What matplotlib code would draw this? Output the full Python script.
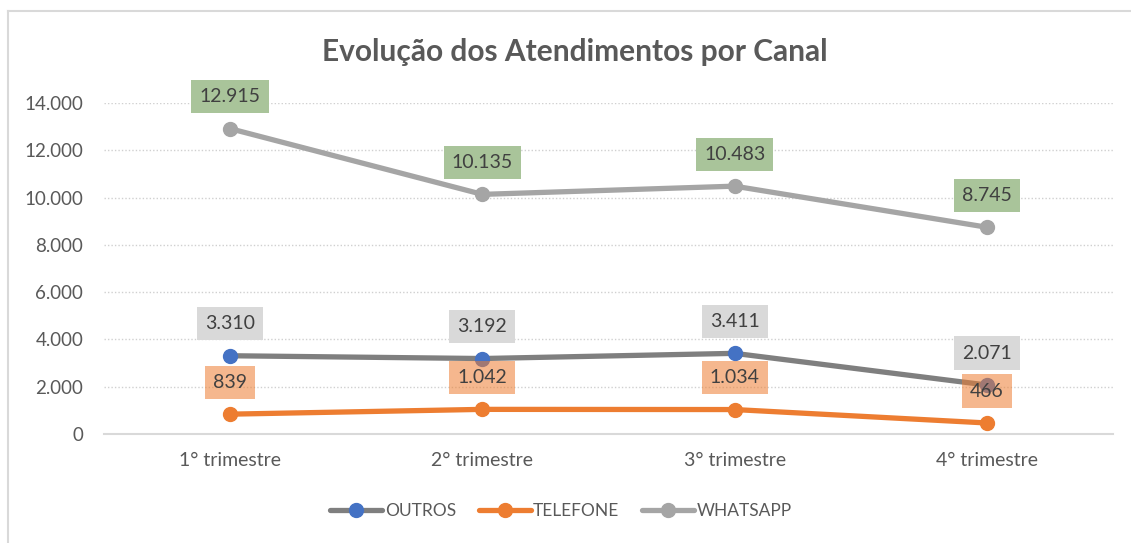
from matplotlib import pyplot as plt
from matplotlib.lines import Line2D
from matplotlib.ticker import FuncFormatter

categorias = ["1° trimestre", "2° trimestre", "3° trimestre", "4° trimestre"]
outros = [3310, 3192, 3411, 2071]
telefone = [839, 1042, 1034, 466]
whatsapp = [12915, 10135, 10483, 8745]

plt.rcParams["font.family"] = ["Lato", "DejaVu Sans"]
TEXT = "#595959"


def fmt_br(v):
    return f"{int(v):,}".replace(",", ".")


fig = plt.figure(figsize=(11.31, 5.43), dpi=100)
ax = fig.add_axes([104 / 1131, 1 - 434 / 543, (1113 - 104) / 1131, (434 - 103) / 543])

# moldura do gráfico (só topo e esquerda aparecem no recorte)
fig.add_artist(Line2D([8 / 1131, 1], [1 - 11 / 543] * 2, color="#D9D9D9", lw=1.5))
fig.add_artist(Line2D([8 / 1131] * 2, [0, 1 - 11 / 543], color="#D9D9D9", lw=1.5))

x = list(range(len(categorias)))
series = [
    ("OUTROS", outros, "#7F7F7F", "#4472C4", "#D9D9D9", 1.0),
    ("TELEFONE", telefone, "#ED7D31", "#ED7D31", "#ED7D31", 0.55),
    ("WHATSAPP", whatsapp, "#A5A5A5", "#A5A5A5", "#A9C49A", 1.0),
]

handles = []
for nome, vals, cor, cor_marc, cor_box, alpha in series:
    h, = ax.plot(x, vals, color=cor, lw=3.8, marker="o", markersize=10,
                 markerfacecolor=cor_marc, markeredgecolor=cor_marc,
                 solid_capstyle="round", label=nome, zorder=3)
    handles.append(h)

for nome, vals, cor, cor_marc, cor_box, alpha in series:
    for xi, v in zip(x, vals):
        ax.annotate(fmt_br(v), (xi, v), xytext=(0, 23), textcoords="offset points",
                    ha="center", va="center", fontsize=14, color="#404040",
                    bbox=dict(boxstyle="square,pad=0.42", fc=cor_box, ec="none", alpha=alpha),
                    zorder=5, annotation_clip=False)

ax.set_xlim(-0.5, 3.5)
ax.set_ylim(0, 14000)
ax.set_yticks(range(0, 14001, 2000))
ax.yaxis.set_major_formatter(FuncFormatter(lambda v, p: fmt_br(v)))
ax.set_xticks(x)
ax.set_xticklabels(categorias)
ax.tick_params(length=0, labelcolor=TEXT)
ax.tick_params(axis="y", pad=15, labelsize=13.5)
ax.tick_params(axis="x", pad=13, labelsize=14)
ax.grid(axis="y", color="#D0D0D0", linestyle=(0, (1, 1.5)), lw=1.0)
for s in ["top", "right", "left"]:
    ax.spines[s].set_visible(False)
ax.spines["bottom"].set_color("#D9D9D9")
ax.spines["bottom"].set_linewidth(1.5)

fig.text(575 / 1131, 1 - 52 / 543, "Evolução dos Atendimentos por Canal",
         ha="center", va="center", fontsize=21.5, fontweight="bold", color=TEXT)

leg = fig.legend(handles=handles, loc="center", bbox_to_anchor=(561 / 1131, 1 - 511 / 543),
                 ncol=3, frameon=False, fontsize=12.5, handlelength=3.0,
                 columnspacing=1.3, handletextpad=0.15)
for t in leg.get_texts():
    t.set_color(TEXT)

fig.savefig("out.png", dpi=100)
